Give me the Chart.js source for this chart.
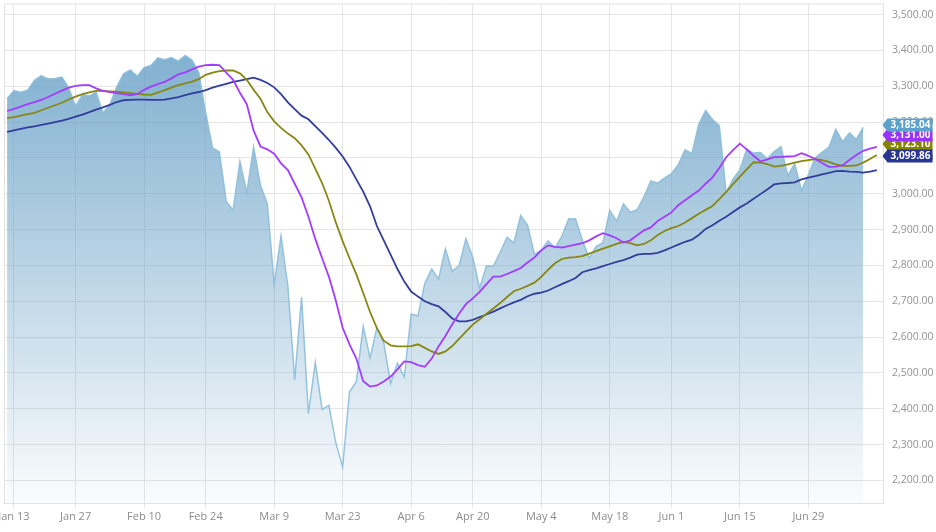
<!DOCTYPE html>
<html>
<head>
<meta charset="utf-8">
<script src="https://cdn.jsdelivr.net/npm/chart.js@4/dist/chart.umd.min.js"></script>
<style>
  html, body { margin: 0; padding: 0; background: #fff; }
  #wrap { width: 936px; height: 532px; position: relative; }
</style>
</head>
<body>
<div id="wrap"><canvas id="lineChart"></canvas></div>
<script>
// trading days, Jan 10 to Jul 10 (+2 extra days the averages run on to)
var dates = [
  "Jan 10","Jan 13","Jan 14","Jan 15","Jan 16","Jan 17","Jan 21","Jan 22","Jan 23","Jan 24",
  "Jan 27","Jan 28","Jan 29","Jan 30","Jan 31","Feb 3","Feb 4","Feb 5","Feb 6","Feb 7",
  "Feb 10","Feb 11","Feb 12","Feb 13","Feb 14","Feb 18","Feb 19","Feb 20","Feb 21",
  "Feb 24","Feb 25","Feb 26","Feb 27","Feb 28","Mar 2","Mar 3","Mar 4","Mar 5","Mar 6",
  "Mar 9","Mar 10","Mar 11","Mar 12","Mar 13","Mar 16","Mar 17","Mar 18","Mar 19","Mar 20",
  "Mar 23","Mar 24","Mar 25","Mar 26","Mar 27","Mar 30","Mar 31","Apr 1","Apr 2","Apr 3",
  "Apr 6","Apr 7","Apr 8","Apr 9","Apr 13","Apr 14","Apr 15","Apr 16","Apr 17",
  "Apr 20","Apr 21","Apr 22","Apr 23","Apr 24","Apr 27","Apr 28","Apr 29","Apr 30","May 1",
  "May 4","May 5","May 6","May 7","May 8","May 11","May 12","May 13","May 14","May 15",
  "May 18","May 19","May 20","May 21","May 22","May 26","May 27","May 28","May 29",
  "Jun 1","Jun 2","Jun 3","Jun 4","Jun 5","Jun 8","Jun 9","Jun 10","Jun 11","Jun 12",
  "Jun 15","Jun 16","Jun 17","Jun 18","Jun 19","Jun 22","Jun 23","Jun 24","Jun 25","Jun 26",
  "Jun 29","Jun 30","Jul 1","Jul 2","Jul 6","Jul 7","Jul 8","Jul 9","Jul 10","Jul 13","Jul 14"
];

var tickDates = ["Jan 13","Jan 27","Feb 10","Feb 24","Mar 9","Mar 23","Apr 6","Apr 20",
  "May 4","May 18","Jun 1","Jun 15","Jun 29"];

var yTicks = [3500,3400,3300,3200,3100,3000,2900,2800,2700,2600,2500,2400,2300,2200];

var close = [
  3265.35,3288.13,3283.15,3289.29,3316.81,3329.62,3320.79,3321.75,3325.54,3295.47,
  3243.63,3276.24,3273.40,3283.66,3225.52,3248.92,3297.59,3334.69,3345.78,3327.71,
  3352.09,3357.75,3379.45,3373.94,3380.16,3370.29,3386.15,3373.23,3337.75,
  3225.89,3128.21,3116.39,2978.76,2954.22,3090.23,3003.37,3130.12,3023.94,2972.37,
  2746.56,2882.23,2741.38,2480.64,2711.02,2386.13,2529.19,2398.10,2409.39,2304.92,
  2237.40,2447.33,2475.56,2630.07,2541.47,2626.65,2584.59,2470.50,2526.90,2488.65,
  2663.68,2659.41,2749.98,2789.82,2761.63,2846.06,2783.36,2799.55,2874.56,
  2823.16,2736.56,2799.31,2797.80,2836.74,2878.48,2863.39,2939.51,2912.43,2830.71,
  2842.74,2868.44,2848.42,2881.19,2929.80,2930.32,2870.12,2820.00,2852.50,2863.70,
  2953.91,2922.94,2971.61,2948.51,2955.45,2991.77,3036.13,3029.73,3044.31,
  3055.73,3080.82,3122.87,3112.35,3193.93,3232.39,3207.18,3190.14,3002.10,3041.31,
  3066.59,3124.74,3113.49,3115.34,3097.74,3117.86,3131.29,3050.33,3083.76,3009.05,
  3053.24,3100.29,3115.86,3130.01,3179.72,3145.32,3169.94,3152.05,3185.04
];

var maFast = [
  3231,3237,3243,3250,3256,3262,3270,3279,3288,3296,3301,3303,3303,3294,3287,3284,3281,3278,3275,3278,
  3290,3299,3306,3312,3322,3333,3339,3347,3355,3359,3360,3359,3338,3318,3282,3250,3176,3132,3124,3112,
  3085,3066,3028,2990,2936,2874,2820,2768,2702,2626,2580,2540,2477,2462,2465,2476,2490,2510,2532,2530,
  2522,2517,2540,2574,2603,2636,2665,2692,2708,2726,2748,2769,2769,2776,2784,2793,2808,2822,2842,2856,
  2852,2850,2854,2858,2862,2870,2881,2890,2884,2876,2864,2870,2884,2898,2906,2924,2936,2948,2968,2982,
  2996,3009,3028,3046,3072,3102,3122,3140,3124,3106,3090,3096,3102,3103,3104,3105,3113,3106,3097,3086,
  3075,3076,3080,3094,3108,3120,3126,3131
];

var maMid = [
  3211,3214,3218,3222,3226,3233,3240,3247,3254,3263,3271,3278,3283,3287,3287,3286,3285,3283,3281,3279,
  3277,3276,3282,3289,3296,3303,3308,3313,3320,3332,3338,3342,3344,3344,3336,3318,3290,3265,3228,3202,
  3184,3168,3155,3135,3110,3070,3030,2980,2920,2868,2820,2775,2723,2670,2625,2590,2577,2574,2574,2575,
  2580,2570,2560,2553,2560,2575,2595,2615,2635,2650,2665,2680,2695,2712,2728,2735,2743,2752,2768,2788,
  2806,2818,2822,2823,2826,2833,2840,2847,2853,2860,2866,2862,2856,2860,2870,2885,2896,2904,2910,2920,
  2932,2944,2955,2966,2985,3005,3027,3048,3068,3088,3087,3083,3076,3078,3082,3087,3091,3094,3097,3094,
  3089,3082,3078,3078,3079,3087,3097,3108
];

var maSlow = [
  3173,3177,3181,3185,3188,3192,3196,3200,3204,3209,3215,3221,3228,3235,3241,3248,3256,3261,3262,3263,
  3263,3262,3262,3263,3266,3270,3275,3280,3284,3289,3296,3302,3307,3312,3316,3320,3324,3318,3309,3297,
  3278,3255,3236,3218,3208,3189,3170,3150,3128,3104,3075,3040,3006,2965,2910,2870,2830,2790,2755,2727,
  2713,2700,2692,2686,2670,2652,2644,2644,2648,2656,2663,2671,2680,2689,2697,2704,2714,2721,2724,2730,
  2739,2748,2756,2765,2781,2787,2792,2798,2804,2810,2815,2822,2830,2832,2832,2835,2842,2850,2858,2866,
  2872,2885,2902,2912,2925,2936,2949,2962,2973,2986,2999,3012,3026,3029,3030,3032,3040,3045,3049,3054,
  3058,3063,3064,3062,3061,3059,3062,3066
];

// values printed in the flags on the right
var lastValues = [3185.04, maFast[maFast.length - 1], 3123.10, 3099.86];
var flagColors = ["#5aa2cb", "#9b30ff", "#858500", "#283593"];

function pts(arr) {
  return arr.map(function (v, i) { return { x: i, y: v }; });
}
function money(v) {
  return v.toLocaleString("en-US", { minimumFractionDigits: 2, maximumFractionDigits: 2 });
}

var tickIdx = tickDates.map(function (d) { return dates.indexOf(d); });

Chart.defaults.font.family = "'Open Sans', sans-serif";
Chart.defaults.font.size = 11;
Chart.defaults.color = "#8c8c8c";

var frame = {
  id: "frame",
  beforeDatasetsDraw: function (chart) {
    var a = chart.chartArea, c = chart.ctx;
    c.save();
    c.strokeStyle = "#e2e2e2";
    c.lineWidth = 1;
    c.beginPath();
    c.moveTo(a.left + 0.5, a.bottom);
    c.lineTo(a.left + 0.5, a.top + 0.5);
    c.lineTo(a.right, a.top + 0.5);
    c.stroke();
    c.restore();
  }
};

var flags = {
  id: "flags",
  afterDraw: function (chart) {
    var c = chart.ctx, ys = chart.scales.y, a = chart.chartArea;
    // place from the bottom flag up, keep them from stacking fully
    var order = [3, 2, 1, 0];
    var gaps = [10, 9, 12, 0];
    var cy = [];
    var prev = null;
    order.forEach(function (k) {
      var p = ys.getPixelForValue(lastValues[k]) - 2;
      if (prev !== null) p = Math.min(p, prev - gaps[k]);
      cy[k] = p;
      prev = p;
    });
    [2, 3, 1, 0].forEach(function (k) {
      var y = cy[k], tip = a.right - 0.5, l = a.right + 4.5, r = a.right + 49.5;
      c.save();
      c.fillStyle = flagColors[k];
      c.beginPath();
      c.moveTo(tip, y);
      c.lineTo(l, y - 6.5);
      c.lineTo(r, y - 6.5);
      c.lineTo(r, y + 6.5);
      c.lineTo(l, y + 6.5);
      c.closePath();
      c.fill();
      c.fillStyle = "#fff";
      c.font = "bold 10px 'Open Sans', sans-serif";
      c.textAlign = "center";
      c.textBaseline = "middle";
      c.fillText(money(lastValues[k]), (l + r) / 2 + 0.5, y + 0.5);
      c.restore();
    });
  }
};

var ctx = document.getElementById("lineChart").getContext("2d");
var myChart = new Chart(ctx, {
  type: "line",
  data: {
    datasets: [
      {
        label: "Close",
        data: pts(close),
        borderColor: "rgba(140,190,220,0.9)",
        borderWidth: 1.5,
        backgroundColor: function (context) {
          var a = context.chart.chartArea;
          if (!a) return "rgba(100,160,200,0.5)";
          var g = context.chart.ctx.createLinearGradient(0, a.top, 0, a.bottom);
          g.addColorStop(0, "rgba(92,153,194,0.85)");
          g.addColorStop(1, "rgba(92,153,194,0.03)");
          return g;
        },
        fill: "start",
        pointRadius: 0,
        tension: 0,
        order: 4
      },
      {
        label: "Slow",
        data: pts(maSlow),
        borderColor: "#323d9c",
        borderWidth: 1.8,
        pointRadius: 0,
        fill: false,
        order: 3
      },
      {
        label: "Mid",
        data: pts(maMid),
        borderColor: "#878712",
        borderWidth: 1.8,
        pointRadius: 0,
        fill: false,
        order: 2
      },
      {
        label: "Fast",
        data: pts(maFast),
        borderColor: "#a43cff",
        borderWidth: 1.8,
        pointRadius: 0,
        fill: false,
        order: 1
      }
    ]
  },
  options: {
    responsive: true,
    maintainAspectRatio: false,
    animation: false,
    layout: { padding: { left: 4, top: 3.5, right: 0, bottom: 0 } },
    plugins: { legend: { display: false }, tooltip: { enabled: false } },
    scales: {
      x: {
        type: "linear",
        min: -0.45,
        max: 127.9,
        grid: { color: "#e6e6e6", tickLength: 5, drawTicks: true },
        border: { display: true, color: "#e2e2e2" },
        ticks: {
          padding: 2,
          maxRotation: 0,
          autoSkip: false,
          callback: function (v) { return dates[v]; }
        },
        afterBuildTicks: function (s) {
          s.ticks = tickIdx.map(function (v) { return { value: v }; });
        },
        afterFit: function (s) {
          s.height = 29;
          s.paddingLeft = 0;
          s.paddingRight = 0;
        }
      },
      y: {
        position: "right",
        min: 2137,
        max: 3531,
        grid: { color: "#e6e6e6", drawTicks: false },
        border: { display: true, color: "#e2e2e2" },
        ticks: {
          padding: 9,
          font: { size: 10.5 },
          color: "#939393",
          callback: function (v) { return money(v); }
        },
        afterBuildTicks: function (s) {
          s.ticks = yTicks.map(function (v) { return { value: v }; });
        },
        afterFit: function (s) {
          s.width = 53;
          s.paddingTop = 0;
          s.paddingBottom = 0;
        }
      }
    }
  },
  plugins: [frame, flags]
});
</script>
</body>
</html>
